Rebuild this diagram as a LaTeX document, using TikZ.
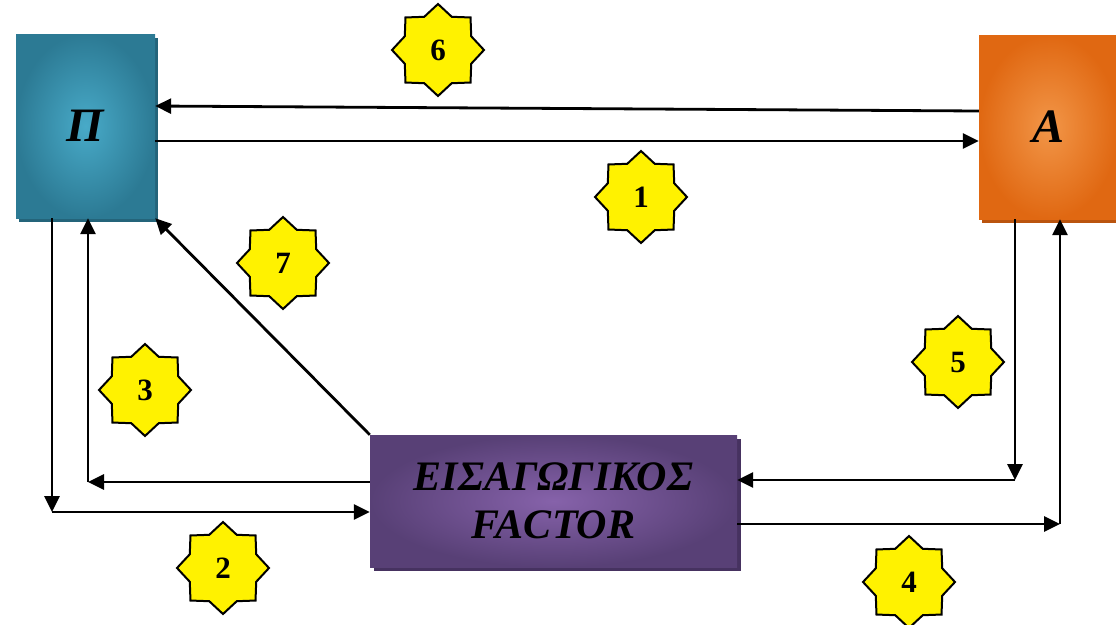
\documentclass[tikz,border=0pt]{standalone}
\usepackage{fontspec}
\setmainfont{Liberation Serif}
\usetikzlibrary{shapes.geometric,arrows.meta,positioning,shadows}

\definecolor{piedge}{RGB}{44,122,148}
\definecolor{picore}{RGB}{72,170,200}
\definecolor{pishade}{RGB}{36,100,122}
\definecolor{aedge}{RGB}{224,104,18}
\definecolor{acore}{RGB}{242,150,72}
\definecolor{ashade}{RGB}{186,84,14}
\definecolor{fedge}{RGB}{88,64,118}
\definecolor{fcore}{RGB}{134,98,170}
\definecolor{fshade}{RGB}{70,50,96}

\begin{document}
\begin{tikzpicture}[x=1pt, y=-1pt,
    party/.style={rectangle, minimum width=139pt, minimum height=184pt, inner sep=0pt,
        font=\fontsize{48}{48}\selectfont\bfseries\itshape},
    factor/.style={rectangle, minimum width=367pt, minimum height=132pt, align=center,
        inner color=fcore, outer color=fedge,
        drop shadow={shadow xshift=4pt, shadow yshift=-4pt, fill=fshade, opacity=1},
        font=\fontsize{42}{48}\selectfont\bfseries\itshape},
    badge/.style={star, star points=8, star point ratio=1.28, draw=black, line width=2pt,
        fill=yellow, minimum size=92pt, inner sep=0pt, font=\fontsize{31}{31}\selectfont\bfseries},
    arrow/.style={line width=2.8pt, -{Triangle[length=16pt, width=15pt]}}
]
\useasboundingbox (0,0) rectangle (1116,624);

% the three parties
\node[party, inner color=picore, outer color=piedge,
    drop shadow={shadow xshift=3pt, shadow yshift=-4pt, fill=pishade, opacity=1}]
    (pi) at (85.5,126) {Π};
\node[party, inner color=acore, outer color=aedge,
    drop shadow={shadow xshift=3pt, shadow yshift=-4pt, fill=ashade, opacity=1}]
    (a) at (1048.5,127) {Α};
\node[factor] (fac) at (553.5,501) {ΕΙΣΑΓΩΓΙΚΟΣ\\FACTOR};

% corners of the side loops
\coordinate (lout) at (52,512);
\coordinate (lin) at (88,482);
\coordinate (rin) at (1015,480);
\coordinate (rout) at (1060,524);

% top flows
\draw[arrow] ([yshift=16pt]a.west) -- ([yshift=20pt]pi.east);
\draw[arrow] ([yshift=-15pt]pi.east) -- ([yshift=-14pt]a.west);

% left loops
\draw[arrow] (pi.south -| lout) -- (lout);
\draw[arrow] (lout) -- (lout -| fac.west);
\draw[arrow] (fac.west |- lin) -- (lin);
\draw[arrow] (lin) -- (pi.south -| lin);
\draw[arrow] (fac.north west) -- (pi.south east);

% right loops
\draw[arrow] (a.south -| rin) -- (rin);
\draw[arrow] (rin) -- (rin -| fac.east);
\draw[arrow] (fac.east |- rout) -- (rout);
\draw[arrow] (rout) -- (a.south -| rout);

% numbered steps
\node[badge] (s1) at (641,197) {1};
\node[badge] (s2) at (223,568) {2};
\node[badge] (s3) at (145,390) {3};
\node[badge] (s4) at (909,582) {4};
\node[badge] (s5) at (958,362) {5};
\node[badge] (s6) at (438,50) {6};
\node[badge] (s7) at (283,263) {7};

\end{tikzpicture}
\end{document}
